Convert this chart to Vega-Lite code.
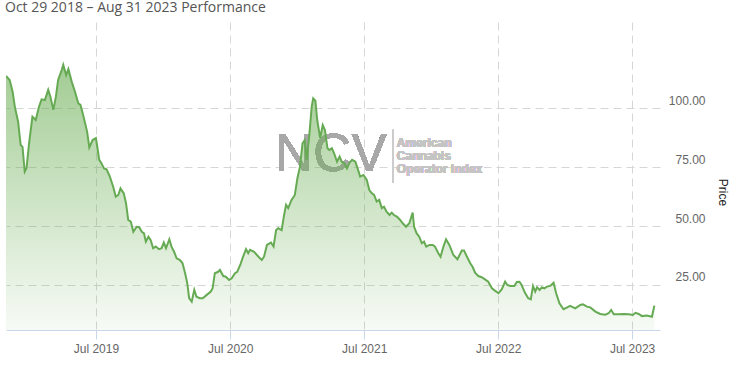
{
  "$schema": "https://vega.github.io/schema/vega-lite/v6.json",
  "autosize": "none",
  "width": 654,
  "height": 308,
  "padding": {"left": 6, "top": 22, "right": 77, "bottom": 38},
  "background": "white",
  "title": {"text": "Oct 29 2018 – Aug 31 2023 Performance", "anchor": "start", "frame": "group", "font": "Open Sans", "fontSize": 14, "fontWeight": "normal", "color": "#555555", "baseline": "alphabetic", "offset": 9, "dx": -1, "dy": 13},
  "config": {"view": {"stroke": null}},
  "data": {"values": [
    {"d":"2018-10-29","v":113.7},{"d":"2018-11-08","v":112.0},{"d":"2018-11-16","v":107.0},{"d":"2018-11-22","v":100.7},{"d":"2018-12-01","v":94.3},{"d":"2018-12-08","v":84.4},{"d":"2018-12-13","v":83.6},{"d":"2018-12-19","v":73.1},{"d":"2018-12-24","v":74.7},{"d":"2018-12-31","v":85.3},
    {"d":"2019-01-09","v":96.4},{"d":"2019-01-18","v":95.0},{"d":"2019-01-27","v":100.7},{"d":"2019-02-03","v":103.8},{"d":"2019-02-12","v":103.5},{"d":"2019-02-21","v":107.8},{"d":"2019-02-27","v":104.9},{"d":"2019-03-07","v":99.3},{"d":"2019-03-14","v":104.9},{"d":"2019-03-20","v":112.0},
    {"d":"2019-03-30","v":116.3},{"d":"2019-04-03","v":118.4},{"d":"2019-04-11","v":114.1},{"d":"2019-04-17","v":116.6},{"d":"2019-04-26","v":111.3},{"d":"2019-05-05","v":107.0},{"d":"2019-05-14","v":102.1},{"d":"2019-05-20","v":101.4},{"d":"2019-05-27","v":97.2},{"d":"2019-06-07","v":90.1},
    {"d":"2019-06-13","v":83.4},{"d":"2019-06-22","v":86.5},{"d":"2019-07-01","v":87.3},{"d":"2019-07-04","v":84.4},{"d":"2019-07-10","v":78.1},{"d":"2019-07-16","v":76.7},{"d":"2019-07-23","v":74.5},{"d":"2019-07-30","v":74.1},{"d":"2019-08-08","v":71.0},{"d":"2019-08-17","v":66.7},
    {"d":"2019-08-24","v":62.5},{"d":"2019-08-31","v":63.2},{"d":"2019-09-06","v":66.0},{"d":"2019-09-15","v":63.9},{"d":"2019-09-21","v":59.7},{"d":"2019-09-27","v":52.6},{"d":"2019-10-04","v":51.9},{"d":"2019-10-11","v":47.6},{"d":"2019-10-20","v":49.7},{"d":"2019-10-27","v":49.5},
    {"d":"2019-11-03","v":47.6},{"d":"2019-11-09","v":46.9},{"d":"2019-11-14","v":43.4},{"d":"2019-11-21","v":45.5},{"d":"2019-11-27","v":44.1},{"d":"2019-12-04","v":40.6},{"d":"2019-12-11","v":41.3},{"d":"2019-12-20","v":40.2},{"d":"2019-12-27","v":40.6},{"d":"2020-01-02","v":43.0},
    {"d":"2020-01-08","v":40.6},{"d":"2020-01-17","v":44.4},{"d":"2020-01-23","v":41.3},{"d":"2020-01-30","v":39.1},{"d":"2020-02-06","v":36.3},{"d":"2020-02-15","v":35.6},{"d":"2020-02-22","v":34.2},{"d":"2020-02-29","v":30.0},{"d":"2020-03-06","v":25.7},{"d":"2020-03-11","v":19.4},
    {"d":"2020-03-18","v":17.9},{"d":"2020-03-25","v":22.9},{"d":"2020-03-31","v":20.0},{"d":"2020-04-09","v":19.4},{"d":"2020-04-17","v":19.4},{"d":"2020-04-28","v":20.8},{"d":"2020-05-09","v":22.2},{"d":"2020-05-14","v":23.6},{"d":"2020-05-20","v":30.0},{"d":"2020-05-29","v":30.6},
    {"d":"2020-06-03","v":31.4},{"d":"2020-06-12","v":28.8},{"d":"2020-06-19","v":28.5},{"d":"2020-06-28","v":27.1},{"d":"2020-07-05","v":27.8},{"d":"2020-07-14","v":30.0},{"d":"2020-07-20","v":30.6},{"d":"2020-07-29","v":33.9},{"d":"2020-08-05","v":37.0},{"d":"2020-08-13","v":40.2},
    {"d":"2020-08-19","v":38.5},{"d":"2020-08-24","v":39.9},{"d":"2020-09-04","v":39.1},{"d":"2020-09-16","v":37.0},{"d":"2020-09-25","v":35.6},{"d":"2020-10-01","v":37.0},{"d":"2020-10-09","v":42.0},{"d":"2020-10-20","v":43.0},{"d":"2020-10-27","v":41.3},{"d":"2020-11-03","v":48.3},
    {"d":"2020-11-09","v":49.1},{"d":"2020-11-18","v":48.3},{"d":"2020-11-24","v":54.0},{"d":"2020-11-30","v":59.0},{"d":"2020-12-06","v":57.6},{"d":"2020-12-15","v":61.1},{"d":"2020-12-24","v":63.2},{"d":"2020-12-31","v":70.3},{"d":"2021-01-07","v":75.2},{"d":"2021-01-14","v":85.1},
    {"d":"2021-01-20","v":86.5},{"d":"2021-01-25","v":78.1},{"d":"2021-02-01","v":87.9},{"d":"2021-02-08","v":100.7},{"d":"2021-02-12","v":104.2},{"d":"2021-02-18","v":103.2},{"d":"2021-02-23","v":95.0},{"d":"2021-03-03","v":87.3},{"d":"2021-03-10","v":92.9},{"d":"2021-03-16","v":90.8},
    {"d":"2021-03-23","v":83.0},{"d":"2021-03-28","v":82.3},{"d":"2021-04-04","v":83.0},{"d":"2021-04-10","v":80.9},{"d":"2021-04-18","v":77.3},{"d":"2021-04-25","v":79.5},{"d":"2021-05-01","v":77.3},{"d":"2021-05-08","v":76.7},{"d":"2021-05-15","v":74.5},{"d":"2021-05-22","v":76.9},
    {"d":"2021-05-29","v":78.1},{"d":"2021-06-07","v":77.3},{"d":"2021-06-13","v":74.5},{"d":"2021-06-20","v":71.0},{"d":"2021-06-29","v":71.7},{"d":"2021-07-08","v":69.6},{"d":"2021-07-15","v":65.3},{"d":"2021-07-22","v":63.9},{"d":"2021-07-28","v":63.2},{"d":"2021-08-04","v":60.4},
    {"d":"2021-08-11","v":61.1},{"d":"2021-08-18","v":57.6},{"d":"2021-08-24","v":58.2},{"d":"2021-08-31","v":56.1},{"d":"2021-09-08","v":54.7},{"d":"2021-09-14","v":55.7},{"d":"2021-09-20","v":54.7},{"d":"2021-09-28","v":54.0},{"d":"2021-10-07","v":52.6},{"d":"2021-10-14","v":51.2},
    {"d":"2021-10-23","v":49.7},{"d":"2021-11-01","v":51.2},{"d":"2021-11-10","v":55.7},{"d":"2021-11-14","v":49.7},{"d":"2021-11-21","v":46.9},{"d":"2021-11-28","v":45.5},{"d":"2021-12-05","v":42.7},{"d":"2021-12-11","v":43.4},{"d":"2021-12-17","v":41.3},{"d":"2021-12-26","v":42.0},
    {"d":"2022-01-04","v":42.0},{"d":"2022-01-10","v":41.3},{"d":"2022-01-19","v":38.5},{"d":"2022-01-25","v":37.0},{"d":"2022-02-02","v":41.3},{"d":"2022-02-09","v":44.4},{"d":"2022-02-18","v":42.0},{"d":"2022-03-01","v":37.7},{"d":"2022-03-12","v":35.9},{"d":"2022-03-24","v":39.6},
    {"d":"2022-03-30","v":39.6},{"d":"2022-04-07","v":37.0},{"d":"2022-04-16","v":34.2},{"d":"2022-04-23","v":32.5},{"d":"2022-04-29","v":30.2},{"d":"2022-05-08","v":28.8},{"d":"2022-05-17","v":28.3},{"d":"2022-05-26","v":27.4},{"d":"2022-06-04","v":26.4},{"d":"2022-06-14","v":23.6},
    {"d":"2022-06-23","v":22.5},{"d":"2022-07-02","v":21.5},{"d":"2022-07-11","v":23.2},{"d":"2022-07-20","v":26.4},{"d":"2022-07-26","v":25.0},{"d":"2022-08-03","v":24.6},{"d":"2022-08-14","v":24.6},{"d":"2022-08-21","v":26.3},{"d":"2022-08-28","v":26.4},{"d":"2022-09-03","v":25.0},
    {"d":"2022-09-12","v":21.7},{"d":"2022-09-21","v":19.4},{"d":"2022-09-28","v":18.9},{"d":"2022-10-04","v":24.6},{"d":"2022-10-10","v":22.2},{"d":"2022-10-15","v":24.0},{"d":"2022-10-22","v":22.9},{"d":"2022-10-28","v":24.0},{"d":"2022-11-04","v":23.6},{"d":"2022-11-11","v":24.3},
    {"d":"2022-11-20","v":24.6},{"d":"2022-11-29","v":26.0},{"d":"2022-12-06","v":21.5},{"d":"2022-12-15","v":17.2},{"d":"2022-12-26","v":14.7},{"d":"2023-01-04","v":15.4},{"d":"2023-01-13","v":16.1},{"d":"2023-01-27","v":15.1},{"d":"2023-02-10","v":16.5},{"d":"2023-02-17","v":16.8},
    {"d":"2023-02-28","v":15.8},{"d":"2023-03-09","v":15.5},{"d":"2023-03-23","v":13.7},{"d":"2023-04-05","v":12.7},{"d":"2023-04-19","v":12.4},{"d":"2023-04-28","v":13.0},{"d":"2023-05-05","v":14.4},{"d":"2023-05-12","v":12.6},{"d":"2023-05-25","v":12.6},{"d":"2023-06-08","v":12.7},
    {"d":"2023-06-22","v":12.6},{"d":"2023-07-03","v":12.3},{"d":"2023-07-10","v":13.2},{"d":"2023-07-19","v":12.7},{"d":"2023-07-28","v":11.8},{"d":"2023-08-10","v":12.0},{"d":"2023-08-24","v":11.5},{"d":"2023-08-30","v":15.8},{"d":"2023-08-31","v":16.2}
  ]},
  "layer": [
    {
      "mark": {"type": "text", "text": "NCV", "font": "Liberation Sans", "fontSize": 53, "fill": "#a8a8a8", "opacity": 0.85, "align": "center", "baseline": "middle"},
      "encoding": {
        "x": {"datum": {"year": 2021, "month": "apr", "date": 1}, "type": "temporal"},
        "y": {"datum": 80.2, "type": "quantitative"}
      }
    },
    {
      "mark": {"type": "rule", "color": "#cccccc", "strokeWidth": 1},
      "encoding": {
        "x": {"datum": {"year": 2021, "month": "sep", "date": 17}, "type": "temporal"},
        "y": {"datum": 90.8, "type": "quantitative"},
        "y2": {"datum": 68.3}
      }
    },
    {
      "mark": {"type": "text", "text": ["American", "Cannabis", "Operator Index"], "font": "Liberation Sans", "fontSize": 12, "fontWeight": "bold", "fill": "#c4c4c4", "align": "left", "baseline": "top", "lineHeight": 13},
      "encoding": {
        "x": {"datum": {"year": 2021, "month": "sep", "date": 28}, "type": "temporal"},
        "y": {"datum": 87.4, "type": "quantitative"}
      }
    },
    {
      "mark": {
        "type": "area",
        "interpolate": "linear",
        "clip": true,
        "line": {"color": "#66ab54", "strokeWidth": 2},
        "color": {"gradient": "linear", "x1": 0, "y1": 0, "x2": 0, "y2": 1, "stops": [
          {"offset": 0, "color": "rgba(104,172,80,0.88)"},
          {"offset": 1, "color": "rgba(104,172,80,0.03)"}
        ]}
      },
      "encoding": {
        "x": {"field": "d", "type": "temporal",
          "scale": {"domain": [{"year": 2018, "month": "oct", "date": 29}, {"year": 2023, "month": "sep", "date": 15}]},
          "axis": {"title": null, "format": "%b %Y",
            "values": [{"year": 2019, "month": "jul", "date": 1}, {"year": 2020, "month": "jul", "date": 1}, {"year": 2021, "month": "jul", "date": 1}, {"year": 2022, "month": "jul", "date": 1}, {"year": 2023, "month": "jul", "date": 1}],
            "domainColor": "#ccd6eb", "tickColor": "#ccd6eb", "tickSize": 9, "labelPadding": 4,
            "labelFont": "Liberation Sans", "labelFontSize": 12, "labelColor": "#666666",
            "grid": true, "gridColor": "#d6d6d6", "gridDash": [8, 5]}},
        "y": {"field": "v", "type": "quantitative",
          "scale": {"domain": [5.9, 136.6], "nice": false, "zero": false},
          "axis": {"orient": "right", "title": "Price", "values": [25, 50, 75, 100], "format": ".2f",
            "domain": false, "ticks": false, "labelAlign": "right", "labelPadding": 45, "labelOffset": -8, "labelBaseline": "middle",
            "labelFont": "Liberation Sans", "labelFontSize": 12, "labelColor": "#666666",
            "titleFont": "Liberation Sans", "titleFontSize": 12, "titleFontWeight": "normal", "titleColor": "#222222", "titlePadding": 10, "titleY": 170,
            "grid": true, "gridColor": "#d6d6d6", "gridDash": [8, 5]}}
      }
    }
  ]
}
